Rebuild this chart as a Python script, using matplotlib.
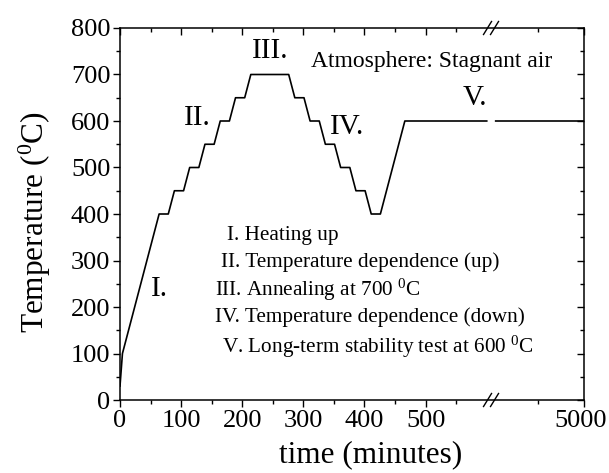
import numpy as np
import matplotlib
matplotlib.use("Agg")
import matplotlib.pyplot as plt
from matplotlib.ticker import FixedLocator, FixedFormatter
from matplotlib.transforms import ScaledTranslation

plt.rcParams['font.family'] = ['Liberation Serif', 'DejaVu Serif']
plt.rcParams['mathtext.fontset'] = 'custom'
plt.rcParams['mathtext.rm'] = 'Liberation Serif'
plt.rcParams['mathtext.default'] = 'regular'

# ---- data (time in minutes, temperature in deg C) ----
time_min = [0, 4, 64, 79, 89, 104, 114, 129, 139, 154, 164, 179, 189, 204, 214,
            276, 286, 301, 311, 326, 336, 351, 361, 376, 386, 401, 411, 426,
            466, 600, np.nan, 3100, 5000]
temp_c = [30, 100, 400, 400, 450, 450, 500, 500, 550, 550, 600, 600, 650, 650, 700,
          700, 650, 650, 600, 600, 550, 550, 500, 500, 450, 450, 400, 400,
          600, 600, np.nan, 600, 600]

x_major = [0, 100, 200, 300, 400, 500, 5000]
x_major_labels = ['0', '100', '200', '300', '400', '500', '5000']
x_minor = [50, 150, 250, 350, 450, 550, 4000]
y_major = [0, 100, 200, 300, 400, 500, 600, 700, 800]
y_minor = [50, 150, 250, 350, 450, 550, 650, 750]

stage_labels = ['I.', 'II.', 'III.', 'IV.', 'V.']
legend_lines = ['I. Heating up',
                'II. Temperature dependence (up)',
                'III. Annealing at 700 $^{0}$C',
                'IV. Temperature dependence (down)',
                'V. Long-term stability test at 600 $^{0}$C']

# ---- broken x scale ----
BREAK = 607.0
SEG2_START = 3000.0
K = 0.0763


def fwd(x):
    x = np.asarray(x, dtype=float)
    return np.where(x <= BREAK, x, np.where(x < SEG2_START, BREAK, BREAK + (x - SEG2_START) * K))


def inv(y):
    y = np.asarray(y, dtype=float)
    return np.where(y <= BREAK, y, SEG2_START + (y - BREAK) / K)


fig = plt.figure(figsize=(6.09, 4.73), dpi=100)
pos = [120 / 609, 1 - 400 / 473, (584.3 - 120) / 609, (400 - 28) / 473]
ax = fig.add_axes(pos)
ax.set_xscale('function', functions=(fwd, inv))
ax.plot(time_min, temp_c, color='black', lw=1.2)
ax.set_xlim(0, 5000)
ax.set_ylim(0, 800)

ax.xaxis.set_major_locator(FixedLocator(x_major))
ax.xaxis.set_major_formatter(FixedFormatter(x_major_labels))
ax.xaxis.set_minor_locator(FixedLocator(x_minor))
ax.yaxis.set_major_locator(FixedLocator(y_major))
ax.yaxis.set_minor_locator(FixedLocator(y_minor))

for s in ax.spines.values():
    s.set_linewidth(1.1)

ax.tick_params(which='both', labelsize=19, width=1.0, direction='out', top=False, right=False)
ax.tick_params(which='major', length=5)
ax.tick_params(which='minor', length=3)
ax.tick_params(axis='x', pad=2)
ax.tick_params(axis='y', pad=2)

# overlay axes for mirrored inward ticks on top/right
ov = fig.add_axes(pos, sharex=ax, sharey=ax)
ov.patch.set_visible(False)
for s in ov.spines.values():
    s.set_visible(False)
ov.tick_params(which='both', direction='in', top=True, right=True, bottom=False, left=False,
               labelbottom=False, labelleft=False, labeltop=False, labelright=False, width=1.0)
ov.tick_params(which='major', length=5)
ov.tick_params(which='minor', length=3)

W, H = 464.3, 372.0
ax.set_xlabel('time (minutes)', fontsize=22.5, va='top')
ax.xaxis.set_label_coords((371 - 120) / W, (400 - 440) / H)
ax.set_ylabel('Temperature ($^{0}$C)', fontsize=22.5)
ax.yaxis.set_label_coords((53 - 120) / W, (400 - 222) / H)

# break marks
xf = float(fwd(BREAK) / fwd(5000))
for yb in (0.0, 1.0):
    for off in (-3.5, 3.5):
        cx = xf + off / W
        ax.plot([cx - 4 / W, cx + 4 / W], [yb - 6.5 / H, yb + 6.5 / H],
                transform=ax.transAxes, color='black', lw=1.0, clip_on=False)

# stage labels
stage_pos = [(0.084, 0.298), (0.166, 0.758), (0.323, 0.938), (0.489, 0.734), (0.765, 0.812)]
for lab, (px, py) in zip(stage_labels, stage_pos):
    ax.text(px, py, lab, transform=ax.transAxes, fontsize=21, ha='center', va='center')

ax.text(0.672, 0.909, 'Atmosphere: Stagnant air', transform=ax.transAxes, fontsize=17,
        ha='center', va='center', bbox=dict(facecolor='white', edgecolor='none', pad=2))

legend_x = [227, 221, 215, 215, 222]
legend_y = [235, 262, 290, 317, 347]
for txt, lx, ly in zip(legend_lines, legend_x, legend_y):
    ax.text((lx - 120) / W, (400 - ly) / H, txt, transform=ax.transAxes, fontsize=15.3,
            ha='left', va='center')

fig.canvas.draw()
for lbl in ax.get_xticklabels():
    if lbl.get_text() == '5000':
        lbl.set_transform(lbl.get_transform() + ScaledTranslation(-3 / 72, 0, fig.dpi_scale_trans))

fig.savefig('out.png', dpi=100)
